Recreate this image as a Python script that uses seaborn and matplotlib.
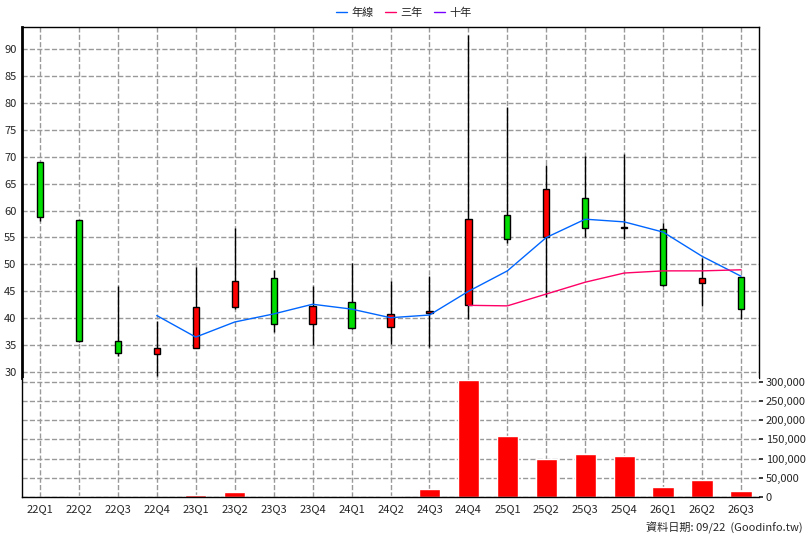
import numpy as np
import pandas as pd
import matplotlib
matplotlib.use('Agg')
import matplotlib.pyplot as plt
from matplotlib.lines import Line2D
import seaborn as sns

quarters = ['22Q1', '22Q2', '22Q3', '22Q4', '23Q1', '23Q2', '23Q3', '23Q4', '24Q1', '24Q2',
            '24Q3', '24Q4', '25Q1', '25Q2', '25Q3', '25Q4', '26Q1', '26Q2', '26Q3']
opens = [69.0, 58.3, 35.7, 33.3, 34.5, 42.0, 47.4, 39.0, 43.0, 38.3,
         40.9, 42.4, 59.2, 55.1, 62.3, 56.9, 56.6, 46.5, 47.7]
highs = [69.0, 58.3, 46.0, 39.5, 49.5, 56.8, 49.0, 46.0, 50.3, 47.0,
         47.8, 92.6, 79.3, 68.5, 70.1, 70.5, 57.7, 51.2, 47.7]
lows = [58.0, 35.6, 33.0, 29.2, 34.5, 41.8, 37.5, 35.0, 38.0, 35.2,
        34.6, 39.8, 54.0, 43.9, 55.0, 54.8, 46.0, 42.2, 39.8]
closes = [58.8, 35.8, 33.5, 34.4, 42.0, 47.0, 39.0, 42.2, 38.2, 40.8,
          41.4, 58.4, 54.7, 64.0, 56.8, 56.8, 46.2, 47.5, 41.7]
ma_year = [np.nan, np.nan, np.nan, 40.5, 36.5, 39.3, 40.8, 42.6, 41.7, 40.1,
           40.6, 45.0, 48.8, 55.0, 58.4, 57.9, 56.0, 51.5, 47.8]
ma_3y = [np.nan] * 11 + [42.4, 42.3, 44.5, 46.7, 48.4, 48.8, 48.8, 49.0]
volumes = [1000, 3000, 1000, 1000, 6000, 12000, 1000, 1000, 1000, 3000,
           22000, 305000, 160000, 100000, 113000, 106000, 25000, 44000, 15000]

sns.set_theme(style='white')
plt.rcParams['font.family'] = ['Noto Sans CJK TC', 'DejaVu Sans']

x = np.arange(len(quarters))
df = pd.DataFrame({'x': x, 'open': opens, 'high': highs, 'low': lows, 'close': closes,
                   'ma1': ma_year, 'ma3': ma_3y, 'vol': volumes})

fig = plt.figure(figsize=(8.08, 5.40), dpi=100)
W, H = 808, 540
ax = fig.add_axes([22 / W, 1 - 378 / H, 737 / W, 351 / H])
axv = fig.add_axes([22 / W, 1 - 497 / H, 737 / W, 119 / H], sharex=ax)

# candles (red = up, green = down)
for _, r in df.iterrows():
    ax.vlines(r['x'], r['low'], r['high'], color='black', lw=1, zorder=2)
    up = r['close'] >= r['open']
    bot = min(r['open'], r['close'])
    h = max(abs(r['close'] - r['open']), 0.15)
    ax.bar(r['x'], h, bottom=bot, width=0.16, color='#ff0000' if up else '#00dd00',
           edgecolor='black', lw=1, zorder=3)

sns.lineplot(data=df, x='x', y='ma1', ax=ax, color='#0066ff', lw=1, zorder=4)
sns.lineplot(data=df, x='x', y='ma3', ax=ax, color='#ff0066', lw=1, zorder=4)

ax.set_xlim(-0.46, 18.46)
ax.set_ylim(28.9, 94.1)
ax.set_yticks(range(30, 95, 5))
ax.set_xlabel('')
ax.set_ylabel('')
ax.grid(True, color='#999999', ls='--', lw=1)
ax.tick_params(axis='x', bottom=False, labelbottom=False)
ax.tick_params(axis='y', labelsize=8, length=3, pad=1)

sns.barplot(data=df, x='x', y='vol', ax=axv, native_scale=True, color='#ff0000',
            width=0.55, saturation=1)
axv.set_ylim(0, 310000)
axv.set_yticks(range(0, 300001, 50000))
axv.set_yticklabels([f'{v:,}' for v in range(0, 300001, 50000)])
axv.yaxis.tick_right()
axv.set_xticks(x)
axv.set_xticklabels(quarters)
axv.set_xlabel('')
axv.set_ylabel('')
axv.grid(True, color='#999999', ls='--', lw=1)
axv.set_axisbelow(True)
axv.tick_params(axis='both', labelsize=8, length=3, pad=2)
axv.set_xlim(-0.46, 18.46)

for a in (ax, axv):
    for s in a.spines.values():
        s.set_color('black')
        s.set_linewidth(1)
ax.spines['left'].set_linewidth(2)
ax.spines['bottom'].set_visible(False)
axv.spines['top'].set_visible(False)
axv.spines['right'].set_visible(False)

handles = [Line2D([], [], color='#0066ff', lw=1),
           Line2D([], [], color='#ff0066', lw=1),
           Line2D([], [], color='#7700ff', lw=1)]
fig.legend(handles, ['年線', '三年', '十年'], loc='upper center', bbox_to_anchor=(0.5, 1.005),
           ncol=3, frameon=False, fontsize=8, handlelength=1, columnspacing=1, handletextpad=0.4)

fig.text(803 / W, 1 - 528 / H, '資料日期: 09/22  (Goodinfo.tw)', ha='right', va='center', fontsize=8)

fig.savefig('out.png', dpi=100)
